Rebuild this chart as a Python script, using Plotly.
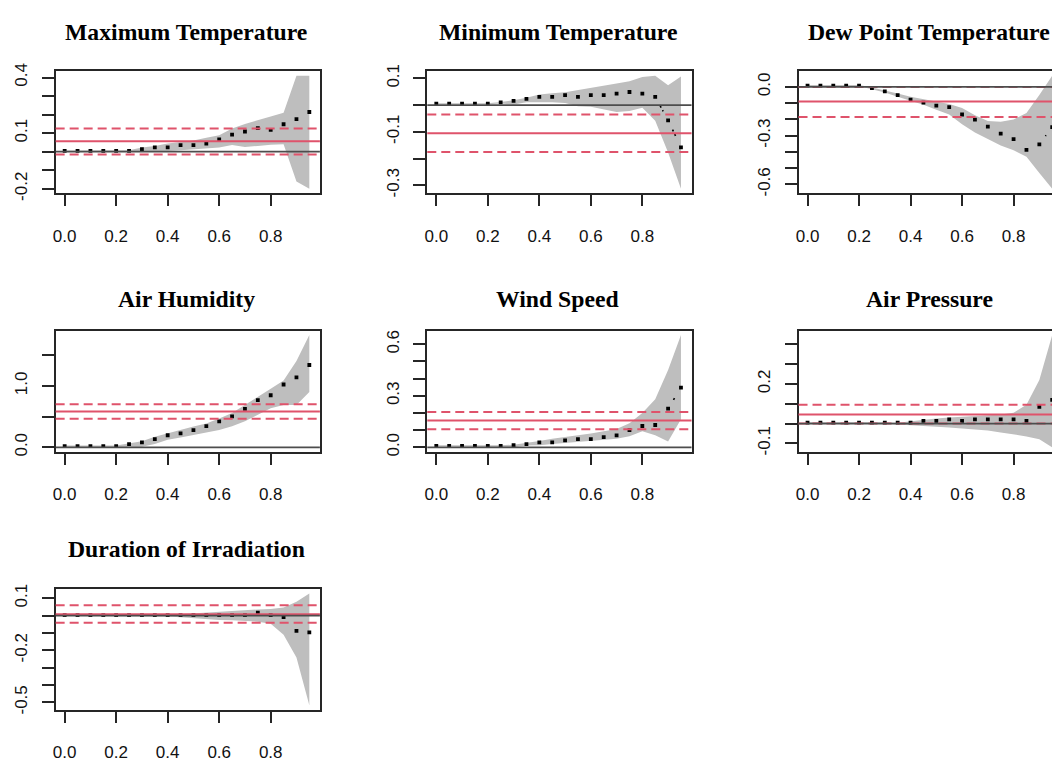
import math
import plotly.graph_objects as go

# ---------------- data ----------------
taus = [0.00, 0.05, 0.10, 0.15, 0.20, 0.25, 0.30, 0.35, 0.40, 0.45,
        0.50, 0.55, 0.60, 0.65, 0.70, 0.75, 0.80, 0.85, 0.90, 0.95]

titles = ["Maximum Temperature", "Minimum Temperature", "Dew Point Temperature",
          "Air Humidity", "Wind Speed", "Air Pressure", "Duration of Irradiation"]

coef_max_temp = [0.005, 0.005, 0.005, 0.005, 0.005, 0.005, 0.014, 0.023, 0.023, 0.035,
                 0.035, 0.044, 0.066, 0.092, 0.109, 0.127, 0.118, 0.148, 0.176, 0.214]
lower_max_temp = [0.003, 0.003, 0.003, 0.003, 0.003, 0.003, 0.002, 0.003, 0.004, 0.008,
                  0.012, 0.016, 0.023, 0.036, 0.026, 0.031, 0.038, 0.040, -0.160, -0.200]
upper_max_temp = [0.007, 0.007, 0.007, 0.007, 0.007, 0.008, 0.023, 0.031, 0.044, 0.052,
                  0.061, 0.075, 0.089, 0.125, 0.150, 0.170, 0.190, 0.210, 0.410, 0.410]
ols_max_temp = [0.057, -0.015, 0.125]

coef_min_temp = [0.005, 0.005, 0.005, 0.005, 0.005, 0.010, 0.016, 0.023, 0.031, 0.031,
                 0.037, 0.031, 0.037, 0.037, 0.043, 0.049, 0.043, 0.031, -0.057, -0.158]
lower_min_temp = [0.003, 0.003, 0.003, 0.003, 0.003, 0.006, 0.002, 0.011, 0.011, 0.011,
                  0.008, -0.004, -0.006, -0.016, -0.026, -0.022, -0.010, -0.059, -0.177, -0.313]
upper_min_temp = [0.007, 0.007, 0.007, 0.007, 0.007, 0.012, 0.018, 0.027, 0.040, 0.044,
                  0.048, 0.056, 0.065, 0.073, 0.081, 0.089, 0.105, 0.110, 0.074, 0.107]
ols_min_temp = [-0.105, -0.175, -0.035]

coef_dew_point = [0.008, 0.008, 0.008, 0.008, 0.008, -0.008, -0.028, -0.051, -0.079, -0.097,
                  -0.115, -0.125, -0.170, -0.202, -0.244, -0.287, -0.321, -0.388, -0.354, -0.247]
lower_dew_point = [0.005, 0.005, 0.005, 0.005, 0.004, -0.015, -0.035, -0.060, -0.085, -0.110,
                   -0.140, -0.170, -0.230, -0.280, -0.320, -0.360, -0.390, -0.430, -0.530, -0.627]
upper_dew_point = [0.011, 0.011, 0.011, 0.011, 0.011, -0.003, -0.020, -0.040, -0.060, -0.075,
                   -0.090, -0.105, -0.130, -0.175, -0.210, -0.215, -0.200, -0.160, -0.050, 0.069]
ols_dew_point = [-0.090, -0.185, 0.000]

coef_humidity = [0.020, 0.020, 0.020, 0.020, 0.020, 0.053, 0.080, 0.132, 0.196, 0.228,
                 0.280, 0.344, 0.424, 0.504, 0.626, 0.769, 0.849, 1.024, 1.140, 1.342]
lower_humidity = [0.000, 0.000, 0.000, 0.000, 0.000, 0.000, 0.010, 0.053, 0.122, 0.159,
                  0.196, 0.240, 0.280, 0.344, 0.424, 0.530, 0.637, 0.690, 0.690, 0.902]
upper_humidity = [0.030, 0.030, 0.030, 0.030, 0.030, 0.060, 0.100, 0.170, 0.235, 0.285,
                  0.340, 0.390, 0.470, 0.560, 0.690, 0.820, 0.955, 1.088, 1.406, 1.830]
ols_humidity = [0.583, 0.467, 0.700]

coef_wind = [0.008, 0.008, 0.008, 0.008, 0.008, 0.008, 0.012, 0.019, 0.029, 0.029,
             0.040, 0.048, 0.048, 0.059, 0.070, 0.100, 0.124, 0.130, 0.225, 0.348]
lower_wind = [0.004, 0.004, 0.004, 0.004, 0.004, 0.004, 0.000, 0.010, 0.012, 0.019,
              0.025, 0.029, 0.034, 0.042, 0.050, 0.065, 0.093, 0.070, 0.034, 0.164]
upper_wind = [0.012, 0.012, 0.012, 0.012, 0.012, 0.012, 0.015, 0.025, 0.036, 0.050,
              0.061, 0.070, 0.080, 0.093, 0.107, 0.140, 0.200, 0.280, 0.450, 0.654]
ols_wind = [0.156, 0.105, 0.205]

coef_pressure = [0.005, 0.005, 0.005, 0.005, 0.005, 0.005, 0.005, 0.005, 0.005, 0.013,
                 0.013, 0.021, 0.013, 0.021, 0.021, 0.021, 0.021, 0.013, 0.084, 0.120]
lower_pressure = [0.002, 0.002, 0.002, 0.002, 0.002, 0.002, 0.002, -0.005, -0.008, -0.012,
                  -0.016, -0.020, -0.025, -0.030, -0.035, -0.045, -0.055, -0.065, -0.080, -0.120]
upper_pressure = [0.008, 0.008, 0.008, 0.008, 0.008, 0.008, 0.008, 0.004, 0.010, 0.018,
                  0.025, 0.031, 0.036, 0.039, 0.043, 0.046, 0.054, 0.095, 0.220, 0.447]
ols_pressure = [0.046, 0.000, 0.095]

coef_irradiation = [0.003, 0.003, 0.003, 0.003, 0.003, 0.003, 0.003, 0.003, 0.003, 0.003,
                    0.003, 0.003, 0.003, 0.003, 0.003, 0.017, 0.003, -0.009, -0.088, -0.097]
lower_irradiation = [-0.002, -0.002, -0.002, -0.002, -0.002, -0.002, -0.002, -0.002, -0.005, -0.010,
                     -0.015, -0.023, -0.025, -0.027, -0.030, -0.035, -0.047, -0.111, -0.242, -0.517]
upper_irradiation = [0.002, 0.002, 0.002, 0.002, 0.002, 0.002, 0.002, 0.002, 0.003, 0.008,
                     0.012, 0.015, 0.020, 0.025, 0.030, 0.035, 0.038, 0.047, 0.079, 0.127]
ols_irradiation = [0.008, -0.041, 0.059]

xtick_vals = [0.0, 0.2, 0.4, 0.6, 0.8]
xtick_labels = ["0.0", "0.2", "0.4", "0.6", "0.8"]

ytick_max_temp = [-0.2, -0.1, 0.0, 0.1, 0.2, 0.3, 0.4]
ylab_max_temp = ["-0.2", "", "", "0.1", "", "", "0.4"]
ytick_min_temp = [-0.3, -0.2, -0.1, 0.0, 0.1]
ylab_min_temp = ["-0.3", "", "-0.1", "", "0.1"]
ytick_dew_point = [-0.6, -0.5, -0.4, -0.3, -0.2, -0.1, 0.0]
ylab_dew_point = ["-0.6", "", "", "-0.3", "", "", "0.0"]
ytick_humidity = [0.0, 0.5, 1.0, 1.5]
ylab_humidity = ["0.0", "", "1.0", ""]
ytick_wind = [0.0, 0.1, 0.2, 0.3, 0.4, 0.5, 0.6]
ylab_wind = ["0.0", "", "", "0.3", "", "", "0.6"]
ytick_pressure = [-0.1, 0.0, 0.1, 0.2, 0.3, 0.4]
ylab_pressure = ["-0.1", "", "", "0.2", "", ""]
ytick_irradiation = [-0.5, -0.4, -0.3, -0.2, -0.1, 0.0, 0.1]
ylab_irradiation = ["-0.5", "", "", "-0.2", "", "", "0.1"]

panels = [
    (coef_max_temp, lower_max_temp, upper_max_temp, ols_max_temp, ytick_max_temp, ylab_max_temp),
    (coef_min_temp, lower_min_temp, upper_min_temp, ols_min_temp, ytick_min_temp, ylab_min_temp),
    (coef_dew_point, lower_dew_point, upper_dew_point, ols_dew_point, ytick_dew_point, ylab_dew_point),
    (coef_humidity, lower_humidity, upper_humidity, ols_humidity, ytick_humidity, ylab_humidity),
    (coef_wind, lower_wind, upper_wind, ols_wind, ytick_wind, ylab_wind),
    (coef_pressure, lower_pressure, upper_pressure, ols_pressure, ytick_pressure, ylab_pressure),
    (coef_irradiation, lower_irradiation, upper_irradiation, ols_irradiation, ytick_irradiation, ylab_irradiation),
]

# ---------------- layout geometry (pixels) ----------------
W, H = 1052, 762
col_left = [52.8, 425.5, 797.8]
row_top = [64.5, 329.5, 593.5]
row_h = [124.8, 123.8, 123.4]
title_y = [25.0, 297.0, 552.5]
box_w = 265.0
x_lo, x_hi = -0.035, 0.991

BAND = "#BEBEBE"
RED = "#DF536B"
ZERO = "#4D4D4D"
FRAME = "#262626"
TICKFONT = dict(family="Liberation Sans, Arial, sans-serif", size=17, color="#111111")
TITLEFONT = dict(family="Liberation Serif, Times New Roman, serif", size=23.7, color="#000000")
GAP = 10.5  # px gap around points for type="b" connecting lines

fig = go.Figure()
shapes = []
annotations = []
layout_axes = {}

for i, (coef, lower, upper, ols, ytv, ytl) in enumerate(panels):
    r, c = divmod(i, 3)
    sfx = "" if i == 0 else str(i + 1)
    left = col_left[c]
    vis_right = min(left + box_w, W)
    xr = [x_lo, x_lo + (x_hi - x_lo) * (vis_right - left) / box_w]
    top = row_top[r]
    bottom = top + row_h[r]
    lo, hi = min(lower), max(upper)
    ext = 0.04 * (hi - lo)
    yr = [lo - ext, hi + ext]

    layout_axes["xaxis" + sfx] = dict(
        domain=[left / W, vis_right / W], range=xr, anchor="y" + sfx,
        showgrid=False, zeroline=False, showline=True, mirror=True,
        linecolor=FRAME, linewidth=1.8, ticks="outside", ticklen=11, tickwidth=1.6,
        tickcolor=FRAME, tickvals=xtick_vals, ticktext=xtick_labels, tickfont=TICKFONT,
        ticklabelstandoff=15, fixedrange=True,
    )
    layout_axes["yaxis" + sfx] = dict(
        domain=[1 - bottom / H, 1 - top / H], range=yr, anchor="x" + sfx,
        showgrid=False, zeroline=False, showline=True, mirror=(c != 2),
        linecolor=FRAME, linewidth=1.8, ticks="outside", ticklen=12, tickwidth=1.6,
        tickcolor=FRAME, tickvals=ytv, ticktext=ytl, tickfont=TICKFONT, tickangle=-90,
        ticklabelstandoff=8, fixedrange=True,
    )

    xa, ya = "x" + sfx, "y" + sfx
    # confidence band
    fig.add_trace(go.Scatter(
        x=taus + taus[::-1], y=lower + upper[::-1], mode="lines", fill="toself",
        fillcolor=BAND, line=dict(width=0, color=BAND), hoverinfo="skip",
        showlegend=False, xaxis=xa, yaxis=ya))

    # type="b" dotted connectors (only the part outside the point gaps)
    px_x = box_w / (x_hi - x_lo)
    px_y = row_h[r] / (yr[1] - yr[0])
    cx, cy = [], []
    for k in range(len(taus) - 1):
        dxv = taus[k + 1] - taus[k]
        dyv = coef[k + 1] - coef[k]
        L = math.hypot(dxv * px_x, dyv * px_y)
        if L > 2 * GAP:
            f = GAP / L
            cx += [taus[k] + f * dxv, taus[k + 1] - f * dxv, None]
            cy += [coef[k] + f * dyv, coef[k + 1] - f * dyv, None]
    if cx:
        fig.add_trace(go.Scatter(
            x=cx, y=cy, mode="lines", line=dict(color="black", width=1.6, dash="2px,3px"),
            hoverinfo="skip", showlegend=False, xaxis=xa, yaxis=ya))

    # coefficient points
    fig.add_trace(go.Scatter(
        x=taus, y=coef, mode="markers",
        marker=dict(symbol="square", size=3.8, color="black", line=dict(width=0)),
        showlegend=False, xaxis=xa, yaxis=ya))

    # OLS estimate and its confidence bounds
    xd = "x domain" if i == 0 else "x" + sfx + " domain"
    shapes.append(dict(type="line", xref=xd, yref=ya, x0=0, x1=1, y0=ols[0], y1=ols[0],
                       line=dict(color=RED, width=2), layer="above"))
    for v in ols[1:]:
        shapes.append(dict(type="line", xref=xd, yref=ya, x0=0, x1=1, y0=v, y1=v,
                           line=dict(color=RED, width=2, dash="9px,5px"), layer="above"))
    # zero line
    shapes.append(dict(type="line", xref=xd, yref=ya, x0=0, x1=1, y0=0, y1=0,
                       line=dict(color=ZERO, width=1.8), layer="above"))

    annotations.append(dict(
        text="<b>" + titles[i] + "</b>", xref="paper", yref="paper",
        x=(left + box_w / 2 - 1.5) / W, y=1 - title_y[r] / H,
        xanchor="center", yanchor="middle", showarrow=False, font=TITLEFONT))

fig.update_layout(
    width=W, height=H, autosize=False,
    margin=dict(l=0, r=0, t=0, b=0),
    paper_bgcolor="white", plot_bgcolor="white",
    showlegend=False, shapes=shapes, annotations=annotations,
    **layout_axes,
)

fig.write_html("out.html", config={"displayModeBar": False})
